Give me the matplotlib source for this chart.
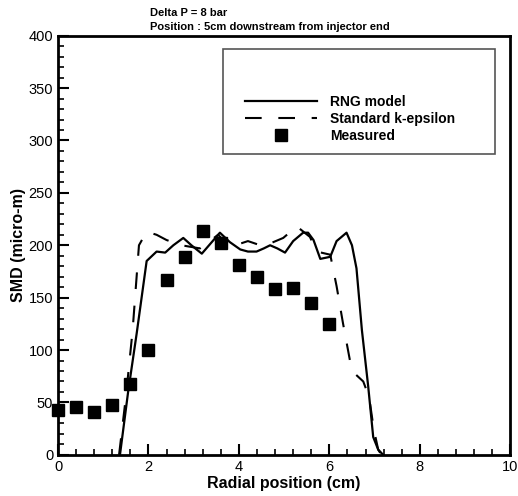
import matplotlib.pyplot as plt
from matplotlib.patches import Rectangle
from matplotlib.ticker import MultipleLocator

plt.rcParams['font.family'] = ['Liberation Sans', 'DejaVu Sans']

# RNG model (solid)
rng_x = [1.37, 1.55, 1.74, 1.96, 2.18, 2.37, 2.55, 2.77, 2.95, 3.18, 3.4, 3.58,
         3.8, 4.03, 4.2, 4.39, 4.55, 4.69, 4.85, 5.02, 5.2, 5.42, 5.53, 5.65,
         5.8, 6.02, 6.16, 6.38, 6.5, 6.6, 6.72, 6.86, 6.97, 7.08, 7.19]
rng_y = [0, 60, 116, 185, 194, 193, 200, 207, 200, 192, 203, 212,
         203, 196, 194, 194, 197, 200, 197, 193, 204, 212, 212, 205,
         187, 189, 204, 212, 200, 178, 119, 65, 17, 5, 0]

# Standard k-epsilon (dashed)
std_x = [1.35, 1.5, 1.65, 1.79, 1.96, 2.18, 2.4, 2.73, 3.14, 3.54, 3.8, 4.06,
         4.2, 4.54, 4.98, 5.28, 5.57, 5.72, 6.02, 6.16, 6.3, 6.46, 6.55, 6.75,
         6.88, 6.98, 7.08, 7.15]
std_y = [0, 55, 119, 200, 213, 210, 205, 200, 197, 210, 199, 202,
         204, 199, 207, 218, 208, 194, 191, 161, 126, 89, 78, 70,
         55, 25, 5, 0]

# Measured
meas_x = [0.0, 0.4, 0.8, 1.2, 1.6, 2.0, 2.4, 2.8, 3.2, 3.6, 4.0, 4.4, 4.8, 5.2, 5.6, 6.0]
meas_y = [43, 46, 41, 48, 68, 100, 167, 189, 214, 202, 181, 170, 158, 159, 145, 125]

fig = plt.figure(figsize=(5.18, 4.96), dpi=100)
ax = fig.add_axes([0.112, 0.083, 0.873, 0.845])

ax.plot(rng_x, rng_y, color='black', lw=1.6, label='RNG model')
ax.plot(std_x, std_y, color='black', lw=1.5, dashes=(8, 8), label='Standard k-epsilon')
ax.plot(meas_x, meas_y, 's', color='black', ms=8, label='Measured', clip_on=False, zorder=6)

ax.set_xlim(0, 10)
ax.set_ylim(0, 400)
ax.xaxis.set_major_locator(MultipleLocator(2))
ax.xaxis.set_minor_locator(MultipleLocator(0.4))
ax.yaxis.set_major_locator(MultipleLocator(50))
ax.yaxis.set_minor_locator(MultipleLocator(10))
ax.tick_params(which='both', direction='in', top=False, right=False,
               width=1.5, labelsize=10.5)
ax.tick_params(which='major', length=8)
ax.tick_params(which='minor', length=4, width=1.2)
for s in ax.spines.values():
    s.set_linewidth(2)

ax.set_xlabel('Radial position (cm)', fontsize=11.5, fontweight='bold', labelpad=2)
ax.set_ylabel('SMD (micro-m)', fontsize=11.5, fontweight='bold', labelpad=2)

# legend box
ax.add_patch(Rectangle((0.365, 0.718), 0.602, 0.251, transform=ax.transAxes,
                       fill=False, edgecolor='#555555', lw=1.2, zorder=5))
ax.legend(loc='upper left', bbox_to_anchor=(0.398, 0.875), frameon=False,
          prop={'weight': 'bold', 'size': 10}, handlelength=5.2,
          handletextpad=0.9, labelspacing=0.2, borderpad=0)

fig.text(0.29, 0.967, 'Delta P = 8 bar', fontsize=8, fontweight='bold')
fig.text(0.29, 0.94, 'Position : 5cm downstream from injector end',
         fontsize=8, fontweight='bold')

fig.savefig('out.png', dpi=100)
